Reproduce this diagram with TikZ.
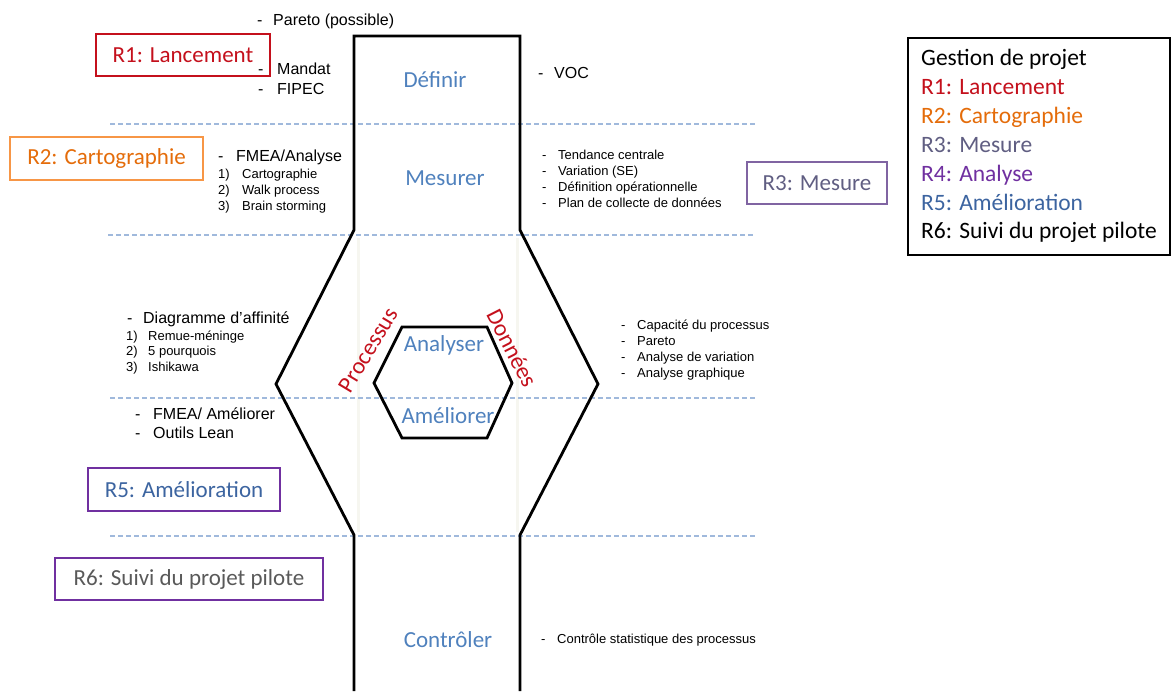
\documentclass[tikz,border=0pt]{standalone}
\usepackage{fontspec}
\setmainfont{Carlito}
\newfontfamily\arial{Liberation Sans}
\definecolor{phaseblue}{RGB}{79,129,189}
\definecolor{rred}{RGB}{196,16,28}
\definecolor{rorange}{RGB}{228,108,10}
\definecolor{rorangeb}{RGB}{247,150,70}
\definecolor{rslate}{RGB}{96,94,130}
\definecolor{rslateb}{RGB}{128,100,162}
\definecolor{rpurple}{RGB}{112,48,160}
\definecolor{rblue}{RGB}{60,100,160}
\definecolor{rgray}{RGB}{89,89,89}
\definecolor{dashblue}{RGB}{160,185,220}
\definecolor{ghost}{RGB}{246,246,240}
\begin{document}
\begin{tikzpicture}[x=1pt,y=-1pt,
  lst/.style={font=\arial\fontsize{16}{18}\selectfont, inner sep=0pt, anchor=base west},
  sml/.style={font=\arial\fontsize{13}{15}\selectfont, inner sep=0pt, anchor=base west},
  phase/.style={font=\fontsize{23}{27}\selectfont, text=phaseblue, inner sep=0pt, anchor=base},
  rlabel/.style={font=\fontsize{23.5}{27}\selectfont, inner sep=0pt},
  rbox/.style={draw, line width=1.3pt, inner sep=0pt, font=\fontsize{23}{27}\selectfont},
  leg/.style={font=\fontsize{23.5}{26}\selectfont, inner sep=0pt, anchor=base west},
  sep/.style={draw=dashblue, line width=1.1pt, dash pattern=on 5pt off 3pt},
  outline/.style={draw=black, line width=2.8pt, line join=miter},
  ghostline/.style={draw=ghost, line width=3pt}
]
\useasboundingbox (0,0) rectangle (1174,691);

% faint ghost lines
\draw[ghostline] (358,238) -- (358,532);
\draw[ghostline] (517,238) -- (517,532);

% dashed separators
\draw[sep] (110,124) -- (757,124);
\draw[sep] (108,235) -- (755,235);
\draw[sep] (110,398) -- (755,398);
\draw[sep] (110,536) -- (755,536);

% outline shape
\coordinate (lt) at (354,36);
\coordinate (rt) at (520,36);
\coordinate (l1) at (354,230);
\coordinate (r1) at (520,230);
\coordinate (lv) at (276,384);
\coordinate (rv) at (598,384);
\coordinate (l2) at (354,535);
\coordinate (r2) at (520,535);
\coordinate (lb) at (354,691);
\coordinate (rb) at (520,691);
\draw[outline] (lb) -- (l2) -- (lv) -- (l1) -- (lt) -- (rt) -- (r1) -- (rv) -- (r2) -- (rb);

% inner hexagon
\draw[outline] (402,327) -- (487,327) -- (512,383) -- (487,438) -- (402,438) -- (374,383) -- cycle;

% phase labels
\node[phase] (definir) at (435,87) {Définir};
\node[phase] (mesurer) at (445,185) {Mesurer};
\node[phase] (analyser) at (444,351) {Analyser};
\node[phase] (ameliorer) at (448,423) {Améliorer};
\node[phase] (controler) at (448,647) {Contrôler};
\node[rlabel, text=rred, rotate=59] (processus) at (368,350) {Processus};
\node[rlabel, text=rred, rotate=-63] (donnees) at (512,348) {Données};

% R boxes
\node[rbox, draw=rred, text=rred, minimum width=174pt, minimum height=42pt] (r1box) at (183,55) {R1: Lancement};
\node[rbox, draw=rorangeb, text=rorange, minimum width=193pt, minimum height=43pt] (r2box) at (106.5,158.5) {R2: Cartographie};
\node[rbox, draw=rslateb, text=rslate, minimum width=140pt, minimum height=42pt] (r3box) at (817,183) {R3: Mesure};
\node[rbox, draw=rpurple, text=rblue, minimum width=192pt, minimum height=43pt] (r5box) at (184,489.5) {R5: Amélioration};
\node[rbox, draw=rpurple, text=rgray, minimum width=268pt, minimum height=42pt] (r6box) at (189,579) {R6: Suivi du projet pilote};

% legend
\node[draw=black, line width=1.3pt, minimum width=262pt, minimum height=217pt, inner sep=0pt] (legend) at (1039,146.5) {};
\node[leg, text=black] (lg0) at (921,65) {Gestion de projet};
\node[leg, text=rred] (lg1) at (921,94) {R1: Lancement};
\node[leg, text=rorange] (lg2) at (921,123) {R2: Cartographie};
\node[leg, text=rslate] (lg3) at (921,152) {R3: Mesure};
\node[leg, text=rpurple] (lg4) at (921,181) {R4: Analyse};
\node[leg, text=rblue] (lg5) at (921,210) {R5: Amélioration};
\node[leg, text=black] (lg6) at (921,238) {R6: Suivi du projet pilote};

% Define lists
\node[lst] (pareto) at (257,25) {\makebox[16pt][l]{-}Pareto (possible)};
\node[lst] (mandat) at (258,74) {\makebox[19pt][l]{-}Mandat};
\node[lst] (fipec) at (258,94) {\makebox[19pt][l]{-}FIPEC};
\node[lst] (voc) at (538,78) {\makebox[16pt][l]{-}VOC};

% Measure lists
\node[lst] (fmeaa) at (218,161) {\makebox[18pt][l]{-}FMEA/Analyse};
\node[sml] (carto) at (218,178) {\makebox[24pt][l]{1)}Cartographie};
\node[sml] (walk) at (218,194) {\makebox[24pt][l]{2)}Walk process};
\node[sml] (brain) at (218,210) {\makebox[24pt][l]{3)}Brain storming};
\node[sml] (tend) at (542,159) {\makebox[16pt][l]{-}Tendance centrale};
\node[sml] (vari) at (542,175) {\makebox[16pt][l]{-}Variation (SE)};
\node[sml] (defop) at (542,191) {\makebox[16pt][l]{-}Définition opérationnelle};
\node[sml] (plan) at (542,207) {\makebox[16pt][l]{-}Plan de collecte de données};

% Analyse / Improve lists
\node[lst] (diag) at (127,323) {\makebox[16pt][l]{-}Diagramme d’affinité};
\node[sml] (remue) at (126,340) {\makebox[22pt][l]{1)}Remue-méninge};
\node[sml] (pourq) at (126,355) {\makebox[22pt][l]{2)}5 pourquois};
\node[sml] (ishi) at (126,371) {\makebox[22pt][l]{3)}Ishikawa};
\node[lst] (fmeam) at (135,419) {\makebox[18pt][l]{-}FMEA/ Améliorer};
\node[lst] (lean) at (135,438) {\makebox[18pt][l]{-}Outils Lean};
\node[sml] (capa) at (621,329) {\makebox[16pt][l]{-}Capacité du processus};
\node[sml] (par2) at (621,345) {\makebox[16pt][l]{-}Pareto};
\node[sml] (avar) at (621,361) {\makebox[16pt][l]{-}Analyse de variation};
\node[sml] (agra) at (621,377) {\makebox[16pt][l]{-}Analyse graphique};

% Control list
\node[sml] (csp) at (541,643) {\makebox[16pt][l]{-}Contrôle statistique des processus};
\end{tikzpicture}
\end{document}
